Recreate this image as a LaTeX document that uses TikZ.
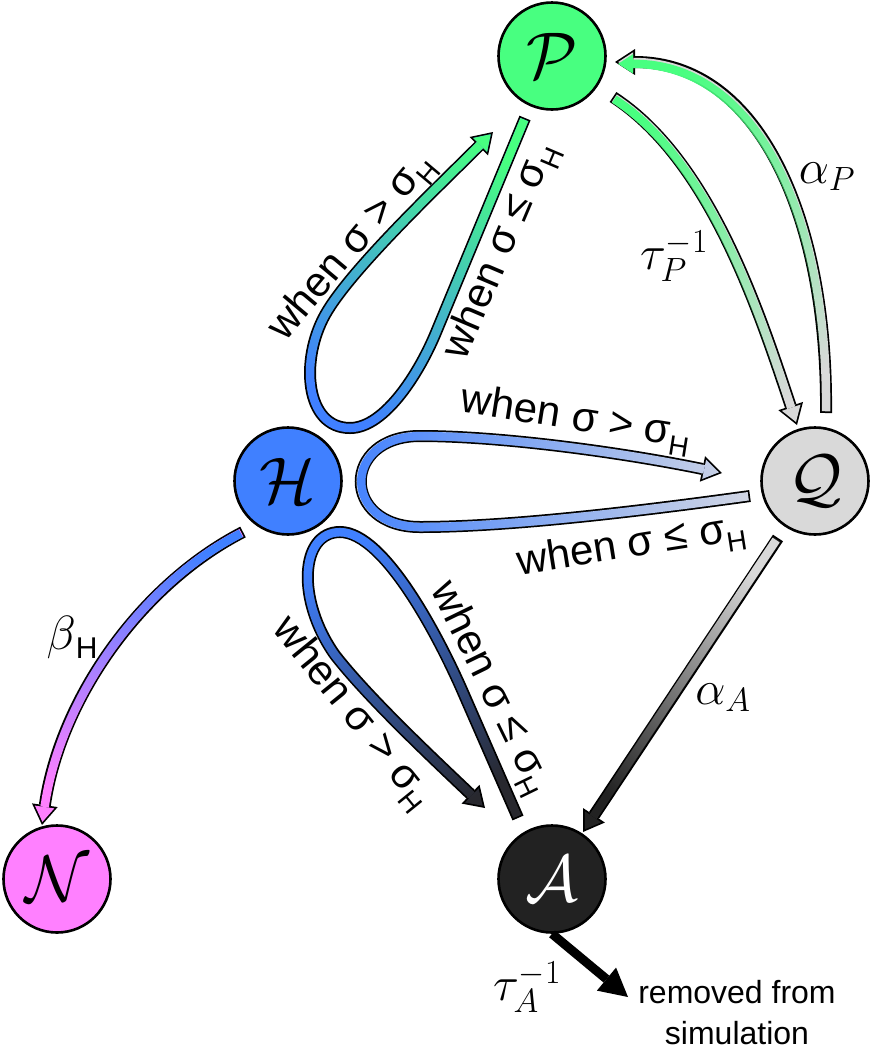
\RequirePackage{fix-cm}
\documentclass[tikz,border=0pt]{standalone}
\usepackage{fontspec}
\newfontfamily\lsans{Liberation Sans}
\usetikzlibrary{arrows.meta,fadings}
\tikzfading[name=fadeup, top color=transparent!0, bottom color=transparent!100]
\definecolor{cP}{RGB}{72,255,128}
\definecolor{cH}{RGB}{64,128,255}
\definecolor{cQ}{RGB}{217,217,217}
\definecolor{cQl}{RGB}{212,216,228}
\definecolor{cN}{RGB}{255,128,255}
\definecolor{cA}{RGB}{34,34,34}
\definecolor{cAl}{RGB}{40,40,46}
\tikzset{
  circ/.style={circle, draw=black, line width=2.6pt, minimum size=107pt, inner sep=0pt, font=\fontsize{66}{68}\selectfont},
  bandout/.style={draw=black, line width=12pt, -{Triangle[width=26pt,length=20pt,line width=0pt]}},
  bandin/.style={draw=#1, line width=8.5pt, shorten <=1.75pt, shorten >=3.2pt, -{Triangle[width=19.6pt,length=15pt,line width=0pt]}},
  whenlab/.style={font=\lsans\fontsize{42}{44}\selectfont, inner sep=0pt, anchor=base},
  mathlab/.style={font=\fontsize{48}{50}\selectfont, inner sep=0pt},
}
\newcommand\gband[4]{%
  \draw[bandout] #1;
  \draw[bandin=#2] #1;
  \draw[bandin=#3, path fading=fadeup, fading angle=#4] #1;
}
\newcommand\sH{σ\raisebox{-10pt}{\fontsize{28}{28}\selectfont H}}
\begin{document}
\begin{tikzpicture}[x=1pt,y=-1pt]
\fill[white] (0,0) rectangle (871,1050);
\useasboundingbox (0,0) rectangle (871,1050);
% nodes
\node[circ, fill=cP] (P) at (552,56) {$\mathcal{P}$};
\node[circ, fill=cH] (H) at (288,481) {$\mathcal{H}$};
\node[circ, fill=cQ] (Q) at (815,481) {$\mathcal{Q}$};
\node[circ, fill=cN] (N) at (57,879) {$\mathcal{N}$};
\node[circ, fill=cA, text=white] (A) at (552,879) {$\mathcal{A}$};
% connector ends
\coordinate (hps) at (525,118); \coordinate (hpe) at (493,132);
\coordinate (pqs) at (613,97);  \coordinate (pqe) at (797,425);
\coordinate (qps) at (826,413); \coordinate (qpe) at (615,62);
\coordinate (hqs) at (750,496); \coordinate (hqe) at (722,473);
\coordinate (has) at (518,818); \coordinate (hae) at (485,808);
\coordinate (qas) at (778,538); \coordinate (qae) at (583,832);
\coordinate (hns) at (243,532); \coordinate (hne) at (42,825);
\coordinate (rm) at (628,997);
% bands
\gband{(hps) -- (437,330) .. controls (420,372) and (385,428) .. (350,428) .. controls (305,428) and (300,360) .. (325,315) .. controls (350,270) and (440,185) .. (hpe)}{cH}{cP}{-28}
\gband{(pqs) .. controls (710,160) and (759,311) .. (pqe)}{cQ}{cP}{15}
\gband{(qps) .. controls (828,220) and (760,62) .. (qpe)}{cQ}{cP}{20}
\gband{(hqs) .. controls (620,514) and (500,527) .. (420,527) .. controls (341,527) and (341,436) .. (420,436) .. controls (500,436) and (620,452) .. (hqe)}{cQl}{cH}{90}
\gband{(has) -- (462,690) .. controls (440,640) and (385,532) .. (340,532) .. controls (300,532) and (296,600) .. (335,655) .. controls (370,700) and (440,765) .. (hae)}{cAl}{cH}{25}
\gband{(qas) -- (qae)}{cA}{cQ}{-34}
\gband{(hns) .. controls (140,585) and (60,700) .. (hne)}{cN}{cH}{-20}
\draw[line width=9pt, -{Triangle[width=30pt,length=28pt,line width=0pt]}] (A.south) -- (rm);
% labels
\node[whenlab, rotate=-9] (l1) at (574,430) {when σ > \sH};
\node[whenlab, rotate=9] (l2) at (633,557) {when σ ≤ \sH};
\node[whenlab, rotate=50] (l3) at (360,254) {when σ > \sH};
\node[whenlab, rotate=67] (l4) at (511,255) {when σ ≤ \sH};
\node[whenlab, rotate=-51] (l5) at (344,720) {when σ > \sH};
\node[whenlab, rotate=-64] (l6) at (481,693) {when σ ≤ \sH};
\node[mathlab] (lap) at (827,177) {$\alpha_P$};
\node[mathlab] (ltp) at (674,256) {$\tau_P^{-1}$};
\node[mathlab] (lbh) at (72,637) {$\beta$\raisebox{-9pt}{\lsans\fontsize{30}{30}\selectfont H}};
\node[mathlab] (laa) at (723,698) {$\alpha_A$};
\node[mathlab] (lta) at (527,987) {$\tau_A^{-1}$};
\node[font=\lsans\fontsize{32}{41}\selectfont, align=center, inner sep=0pt] (rmt) at (737,1013) {removed from\\simulation};
\end{tikzpicture}
\end{document}
